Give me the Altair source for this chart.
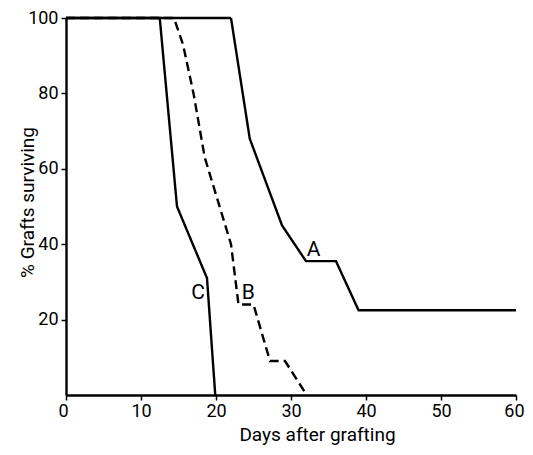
import altair as alt
import pandas as pd

# Curve A (solid)
a_days = [0, 22, 24.5, 28.8, 32, 36, 39, 60]
a_surv = [100, 100, 68, 45, 35.5, 35.5, 22.5, 22.5]
# Curve B (dashed)
b_days = [0, 14.4, 15.6, 17, 18.5, 22, 23, 25, 27.2, 29.2, 32.1]
b_surv = [100, 100, 93, 80, 63, 40, 24, 24, 9, 9, 0]
# Curve C (solid)
c_days = [0, 12.5, 14.8, 18.8, 19.9]
c_surv = [100, 100, 50, 31, 0]

label_text = ["A", "B", "C"]
label_x = [33.0, 24.3, 17.6]
label_y = [38.5, 27.0, 27.0]

rows = []
for name, xs, ys in [("A", a_days, a_surv), ("B", b_days, b_surv), ("C", c_days, c_surv)]:
    for i, (x, y) in enumerate(zip(xs, ys)):
        rows.append({"series": name, "day": x, "surv": y, "idx": i})
df = pd.DataFrame(rows)
lab = pd.DataFrame({"t": label_text, "day": label_x, "surv": label_y})

FONT = "Roboto, Liberation Sans, sans-serif"

xscale = alt.Scale(domain=[0, 60], nice=False, zero=False)
yscale = alt.Scale(domain=[0, 100], nice=False)

lines = alt.Chart(df).mark_line(color="black", strokeWidth=2.4).encode(
    x=alt.X("day:Q", scale=xscale,
            axis=alt.Axis(values=[0, 10, 20, 30, 40, 50, 60], title="Days after grafting",
                          titleX=251, titleY=39, titleBaseline="middle", titleAlign="center",
                          labelFlush=True, labelFlushOffset=8, labelPadding=2)),
    y=alt.Y("surv:Q", scale=yscale,
            axis=alt.Axis(values=[20, 40, 60, 80, 100], title="% Grafts surviving",
                          titleX=-39, titleY=184, titleBaseline="middle",
                          titleAlign="center", titleAngle=270, labelFlush=False)),
    detail="series:N",
    order="idx:Q",
    strokeDash=alt.StrokeDash("series:N",
                              scale=alt.Scale(domain=["A", "B", "C"],
                                              range=[[1, 0], [9, 5], [1, 0]]),
                              legend=None),
)

labels = alt.Chart(lab).mark_text(font=FONT, fontSize=21, color="black",
                                  baseline="middle", align="center").encode(
    x=alt.X("day:Q", scale=xscale),
    y=alt.Y("surv:Q", scale=yscale),
    text="t:N",
)

chart = (lines + labels).properties(
    width=450, height=377,
    autosize=alt.AutoSizeParams(type="none"),
    padding={"left": 58, "top": 10, "right": 9, "bottom": 52},
).configure_view(stroke=None).configure_axis(
    grid=False,
    domainColor="black", domainWidth=2.4,
    tickColor="black", tickWidth=1.5, tickSize=5,
    labelFont=FONT, labelFontSize=18, labelColor="black", labelPadding=3,
    titleFont=FONT, titleFontSize=19, titleColor="black", titleFontWeight="normal",
)

chart.save("out.html", embed_options={"renderer": "svg", "actions": False})
